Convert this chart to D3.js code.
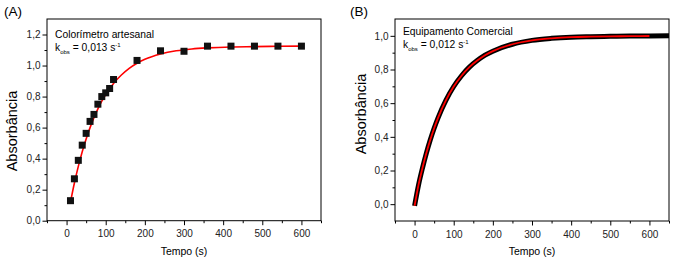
<!DOCTYPE html>
<html>
<head>
<meta charset="utf-8">
<script src="https://cdn.jsdelivr.net/npm/d3@7"></script>
<style>
body { margin: 0; background: #fff; }
svg { display: block; font-family: "Liberation Sans", Arial, sans-serif; }
.axis path, .axis line { stroke: #000; stroke-width: 1; }
.axis text { font-size: 10px; fill: #222; }
</style>
</head>
<body>
<script>
// panel A: measured points (colorimeter) and the fitted curve
var timeA = [10, 20, 30, 40, 50, 60, 70, 80, 90, 100, 110, 120, 180, 240, 300, 360, 420, 480, 540, 600];
var absA = [0.129, 0.27, 0.389, 0.487, 0.563, 0.64, 0.685, 0.751, 0.80, 0.824, 0.852, 0.91, 1.033, 1.095, 1.092, 1.125, 1.125, 1.125, 1.125, 1.125];
var fitTimeA = [10, 20, 30, 40, 50, 60, 70, 80, 90, 100, 120, 140, 160, 180, 200, 240, 280, 320, 360, 420, 480, 540, 600];
var fitAbsA = [0.12, 0.243, 0.35, 0.445, 0.527, 0.60, 0.664, 0.721, 0.77, 0.813, 0.885, 0.939, 0.982, 1.015, 1.04, 1.074, 1.095, 1.107, 1.114, 1.12, 1.122, 1.124, 1.125];

// panel B: commercial instrument trace and fit
var timeB = [0, 10, 20, 30, 40, 50, 60, 80, 100, 120, 140, 160, 180, 200, 250, 300, 350, 400, 450, 500, 550, 600, 650];
var absB = [-0.01, 0.113, 0.213, 0.302, 0.381, 0.451, 0.513, 0.617, 0.699, 0.763, 0.814, 0.853, 0.885, 0.909, 0.95, 0.973, 0.985, 0.992, 0.995, 0.997, 0.999, 0.999, 1.0];
var fitTimeB = [0, 10, 20, 30, 40, 50, 60, 80, 100, 120, 140, 160, 180, 200, 250, 300, 350, 400, 450, 500, 550, 600];
var fitAbsB = [-0.01, 0.113, 0.213, 0.302, 0.381, 0.451, 0.513, 0.617, 0.699, 0.763, 0.814, 0.853, 0.885, 0.909, 0.95, 0.973, 0.985, 0.992, 0.995, 0.997, 0.998, 0.999];

var xTicks = [0, 100, 200, 300, 400, 500, 600];
var xMinor = [-50, 50, 150, 250, 350, 450, 550, 650];

var svg = d3.select("body").append("svg")
    .attr("width", 674)
    .attr("height", 261);

var comma = function (d) { return d3.format(".1f")(d).replace(".", ","); };

var drawPanel = function (opt) {
    var x = d3.scaleLinear().domain([-50, 650]).range([opt.left, opt.right]);
    var y = d3.scaleLinear().domain(opt.yDomain).range([opt.bottom, opt.top]);
    var g = svg.append("g");

    // minor ticks first
    g.append("g").attr("class", "axis")
        .attr("transform", "translate(0," + opt.bottom + ")")
        .call(d3.axisBottom(x).tickValues(xMinor).tickSize(2.5).tickFormat(""))
        .select(".domain").remove();
    g.append("g").attr("class", "axis")
        .attr("transform", "translate(" + opt.left + ",0)")
        .call(d3.axisLeft(y).tickValues(opt.yMinor).tickSize(2.5).tickFormat(""))
        .select(".domain").remove();

    var xa = g.append("g").attr("class", "axis")
        .attr("transform", "translate(0," + opt.bottom + ")")
        .call(d3.axisBottom(x).tickValues(xTicks).tickSize(4.5).tickPadding(5).tickSizeOuter(0));
    xa.select(".domain").remove();
    var ya = g.append("g").attr("class", "axis")
        .attr("transform", "translate(" + opt.left + ",0)")
        .call(d3.axisLeft(y).tickValues(opt.yTicks).tickSize(4.5).tickPadding(2).tickFormat(comma));
    ya.select(".domain").remove();

    var clipId = "clip" + opt.name;
    svg.append("clipPath").attr("id", clipId).append("rect")
        .attr("x", opt.left).attr("y", opt.top)
        .attr("width", opt.right - opt.left).attr("height", opt.bottom - opt.top);

    var line = d3.line().curve(d3.curveMonotoneX)
        .x(function (d) { return x(d[0]); })
        .y(function (d) { return y(d[1]); });

    var plot = g.append("g").attr("clip-path", "url(#" + clipId + ")");
    opt.draw(plot, x, y, line);

    g.append("rect")
        .attr("x", opt.left).attr("y", opt.top)
        .attr("width", opt.right - opt.left).attr("height", opt.bottom - opt.top)
        .attr("fill", "none").attr("stroke", "#000").attr("stroke-width", 1);

    // labels
    svg.append("text").attr("x", opt.tagX).attr("y", 16)
        .attr("font-size", 13.5).text(opt.tag);
    svg.append("text")
        .attr("transform", "translate(" + opt.ylabX + "," + opt.ylabY + ") rotate(-90)")
        .attr("text-anchor", "middle").attr("font-size", 14.5).text("Absorbância");
    svg.append("text").attr("x", (opt.left + opt.right) / 2).attr("y", 254.5)
        .attr("text-anchor", "middle").attr("font-size", 10.5).text("Tempo (s)");

    svg.append("text").attr("x", opt.left + 8).attr("y", opt.noteY)
        .attr("font-size", 10.3).text(opt.note);
    var k = svg.append("text").attr("x", opt.left + 8).attr("y", opt.noteY + 13.5)
        .attr("font-size", 10.3);
    k.append("tspan").text("k");
    k.append("tspan").attr("font-size", 6).attr("dy", 2.5).text("obs");
    k.append("tspan").attr("dy", -2.5).text(" = " + opt.kval + " s");
    k.append("tspan").attr("font-size", 6).attr("dy", -4).text("-1");
};

drawPanel({
    name: "A", tag: "(A)", tagX: 4,
    left: 47, right: 321, top: 19, bottom: 220.7,
    yDomain: [0, 1.3],
    yTicks: [0, 0.2, 0.4, 0.6, 0.8, 1.0, 1.2],
    yMinor: [0.1, 0.3, 0.5, 0.7, 0.9, 1.1],
    ylabX: 17, ylabY: 131,
    note: "Colorímetro artesanal", noteY: 37.5, kval: "0,013",
    draw: function (plot, x, y, line) {
        plot.append("path")
            .attr("d", line(d3.zip(fitTimeA, fitAbsA)))
            .attr("fill", "none").attr("stroke", "#ff0000").attr("stroke-width", 1.6);
        plot.selectAll("rect.pt")
            .data(d3.zip(timeA, absA))
            .enter().append("rect")
            .attr("class", "pt")
            .attr("x", function (d) { return x(d[0]) - 3.5; })
            .attr("y", function (d) { return y(d[1]) - 3.5; })
            .attr("width", 7).attr("height", 7)
            .attr("fill", "#111");
    }
});

drawPanel({
    name: "B", tag: "(B)", tagX: 350,
    left: 395, right: 669, top: 19, bottom: 221,
    yDomain: [-0.1, 1.1],
    yTicks: [0, 0.2, 0.4, 0.6, 0.8, 1.0],
    yMinor: [0.1, 0.3, 0.5, 0.7, 0.9],
    ylabX: 366, ylabY: 114,
    note: "Equipamento Comercial", noteY: 34.5, kval: "0,012",
    draw: function (plot, x, y, line) {
        plot.append("path")
            .attr("d", line(d3.zip(timeB, absB)))
            .attr("fill", "none").attr("stroke", "#000").attr("stroke-width", 5);
        plot.append("path")
            .attr("d", line(d3.zip(fitTimeB, fitAbsB)))
            .attr("fill", "none").attr("stroke", "#ff0000").attr("stroke-width", 1.8);
    }
});
</script>
</body>
</html>
